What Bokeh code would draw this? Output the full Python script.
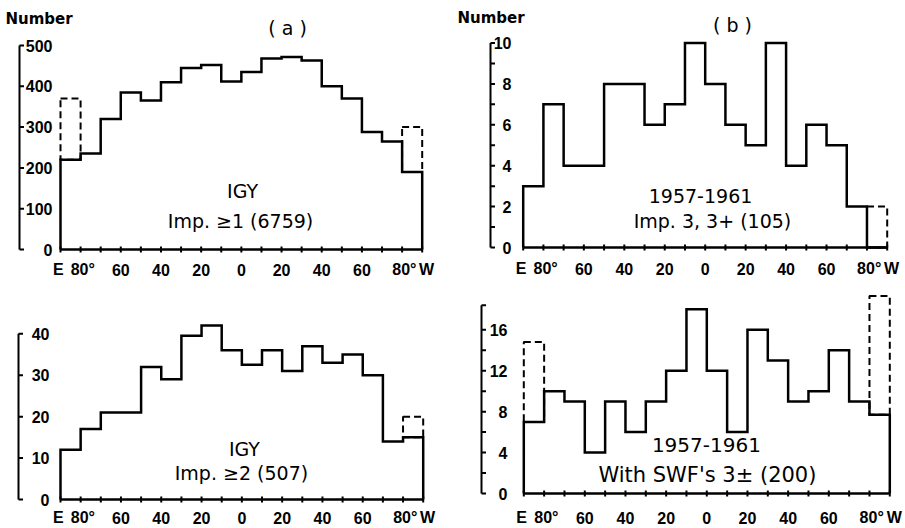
from bokeh.plotting import figure
from bokeh.layouts import column, row
from bokeh.models import Range1d
from bokeh.core.properties import value
from bokeh.embed import file_html
from bokeh.resources import INLINE

# ---------------- data ----------------
# longitude bins, E 90 (left) ... W 90 (right), 10 degrees wide
bin_edges = [-90, -80, -70, -60, -50, -40, -30, -20, -10, 0, 10, 20, 30, 40, 50, 60, 70, 80, 90]
x_label_ticks = [-90, -80, -60, -40, -20, 0, 20, 40, 60, 80, 90]
x_tick_labels = ["E\u00a0", "\u00a080°", "60", "40", "20", "0", "20", "40", "60", "\u00a080°", "\u00a0\u00a0W"]
x_ticks = [-90, -80, -70, -60, -50, -40, -30, -20, -10, 0, 10, 20, 30, 40, 50, 60, 70, 80, 90]

# (a) top: IGY, Imp >= 1
a1_counts = [220, 235, 320, 385, 365, 410, 445, 452, 412, 435, 468, 472, 463, 400, 370, 288, 265, 190]
a1_dashed = [370, None, None, None, None, None, None, None, None, None, None, None, None, None, None, None, None, 300]
a1_yticks = [0, 100, 200, 300, 400, 500]
a1_ylabels = ["0", "100", "200", "300", "400", "500"]

# (b) top: 1957-1961, Imp 3, 3+
b1_counts = [3, 7, 4, 4, 8, 8, 6, 7, 10, 8, 6, 5, 10, 4, 6, 5, 2, 0]
b1_dashed = [None, None, None, None, None, None, None, None, None, None, None, None, None, None, None, None, None, 2]
b1_yticks = [0, 1, 2, 3, 4, 5, 6, 7, 8, 9, 10]
b1_ylabel_ticks = [0, 2, 4, 6, 8, 10]
b1_ylabels = ["0", "2", "4", "6", "8", "10"]

# (a) bottom: IGY, Imp >= 2
a2_counts = [12, 17, 21, 21, 32, 29, 39.5, 42, 36, 32.5, 36, 31, 37, 33, 35, 30, 14, 15]
a2_dashed = [None, None, None, None, None, None, None, None, None, None, None, None, None, None, None, None, None, 20]
a2_yticks = [0, 10, 20, 30, 40]
a2_ylabels = ["0", "10", "20", "30", "40"]

# (b) bottom: 1957-1961 with SWF's 3+-
b2_counts = [7, 10, 9, 4, 9, 6, 9, 12, 18, 12, 6, 16, 13, 9, 10, 14, 9, 7.7]
b2_dashed = [14.8, None, None, None, None, None, None, None, None, None, None, None, None, None, None, None, None, 19.3]
b2_yticks = [0, 2, 4, 6, 8, 10, 12, 14, 16, 18.4]
b2_ylabel_ticks = [0, 4, 8, 12, 16]
b2_ylabels = ["0", "4", "8", "12", "16"]

TICK_FONT = value("Liberation Sans")
TEXT_FONT = value("DejaVu Sans")


def step_outline(edges, vals):
    xs, ys = [edges[0]], [0]
    for i, v in enumerate(vals):
        xs += [edges[i], edges[i + 1]]
        ys += [v, v]
    xs.append(edges[-1])
    ys.append(0)
    return xs, ys


def make_panel(w, h, base_px, px_left, px_right, ref_val, ref_px, counts, dashed,
               yticks, ylabel_ticks, ylabels, bracket_px, label_right_px, xlabel_drop,
               texts):
    ppd = (px_right - px_left) / 180.0
    x0 = -90 - px_left / ppd
    x1 = 90 + (w - px_right) / ppd
    ppu = (base_px - ref_px) / ref_val
    y0 = -(h - base_px) / ppu
    y1 = base_px / ppu

    p = figure(width=w, height=h, output_backend="svg", toolbar_location=None,
               x_range=Range1d(x0, x1), y_range=Range1d(y0, y1),
               x_axis_location=None, y_axis_location=None,
               min_border_left=0, min_border_right=0,
               min_border_top=0, min_border_bottom=0)
    p.grid.visible = False
    p.outline_line_color = None
    p.background_fill_color = "white"
    p.border_fill_color = "white"

    # ---- x axis (baseline, ticks, labels) ----
    t = 3.0 / ppu
    p.segment(x0=[bin_edges[0]], y0=[0], x1=[bin_edges[-1]], y1=[0],
              line_color="black", line_width=2.5)
    p.segment(x0=x_ticks, y0=[-t] * len(x_ticks), x1=x_ticks, y1=[t] * len(x_ticks),
              line_color="black", line_width=2)
    p.text(x=x_label_ticks, y=[-xlabel_drop / ppu] * len(x_label_ticks), text=x_tick_labels,
           text_font=TICK_FONT, text_font_style="bold", text_font_size="16px",
           text_align="center", text_baseline="middle", text_color="black")

    # ---- histogram outline ----
    xs, ys = step_outline(bin_edges, counts)
    p.line(xs, ys, line_color="black", line_width=2.5, line_join="miter")

    # ---- dashed extensions ----
    L, R, B, T = [], [], [], []
    for i, d in enumerate(dashed):
        if d is not None:
            L.append(bin_edges[i]); R.append(bin_edges[i + 1])
            B.append(counts[i]); T.append(d)
    if L:
        p.quad(left=L, right=R, bottom=B, top=T, fill_color=None,
               line_color="black", line_width=2, line_dash="7 4")

    # ---- y axis bracket on the left, labels on its right ----
    bx = -90 + (bracket_px - px_left) / ppd
    tick_len = 4.5 / ppd
    p.segment(x0=[bx], y0=[0], x1=[bx], y1=[yticks[-1]], line_color="black", line_width=2)
    p.segment(x0=[bx] * len(yticks), y0=yticks, x1=[bx + tick_len] * len(yticks), y1=yticks,
              line_color="black", line_width=2)
    lx = -90 + (label_right_px - px_left) / ppd
    p.text(x=[lx] * len(ylabel_ticks), y=ylabel_ticks, text=ylabels,
           text_font=TICK_FONT, text_font_style="bold", text_font_size="16px",
           text_align="right", text_baseline="middle", text_color="black")

    for (tx, ty, s, size, style, align) in texts:
        p.text(x=[tx], y=[ty], text=[s], text_font=TEXT_FONT, text_font_style=style,
               text_font_size=size, text_align=align, text_baseline="middle",
               text_color="black")
    return p


tl = make_panel(450, 284, 249, 60, 421.7, 500, 45, a1_counts, a1_dashed,
                a1_yticks, a1_yticks, a1_ylabels, 19, 52, 20,
                [(-117.4, 566, "Number", "15px", "bold", "left"),
                 (23.0, 544, "( a )", "19px", "normal", "center"),
                 (0.6, 144.6, "IGY", "19px", "normal", "center"),
                 (-0.4, 71, "Imp. ≥1 (6759)", "19px", "normal", "center")])

tr = make_panel(455, 284, 247, 72.7, 436.7, 10, 42.5, b1_counts, b1_dashed,
                b1_yticks, b1_ylabel_ticks, b1_ylabels, 40, 61, 21,
                [(-122.5, 11.2, "Number", "15px", "bold", "left"),
                 (13.5, 10.86, "( b )", "19px", "normal", "center"),
                 (-2.3, 2.54, "1957-1961", "19px", "normal", "center"),
                 (3.6, 1.32, "Imp. 3, 3+ (105)", "19px", "normal", "center")])

bl = make_panel(450, 244, 215, 60, 422.7, 40, 49.3, a2_counts, a2_dashed,
                a2_yticks, a2_yticks, a2_ylabels, 18, 49, 18,
                [(1.3, 12.3, "IGY", "19px", "normal", "center"),
                 (-0.2, 6.3, "Imp. ≥2 (507)", "19px", "normal", "center")])

br = make_panel(455, 244, 209, 73.3, 439.3, 16, 45.3, b2_counts, b2_dashed,
                b2_yticks, b2_ylabel_ticks, b2_ylabels, 31, 57, 24,
                [(-0.2, 4.7, "1957-1961", "20px", "normal", "center"),
                 (0.3, 1.76, "With SWF's 3± (200)", "21px", "normal", "center")])

layout = column(row(tl, tr), row(bl, br))
open("out.html", "w").write(file_html(layout, INLINE))
